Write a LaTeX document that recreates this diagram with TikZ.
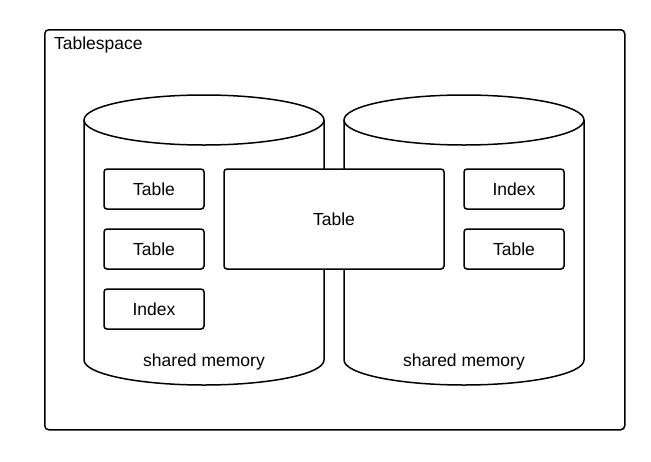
\documentclass[tikz,border=0pt]{standalone}
\usepackage{fontspec}
\setmainfont{Liberation Sans}
\begin{document}
\begin{tikzpicture}[x=1pt,y=-1pt,line width=1.5pt,
  box/.style={draw,rounded corners=3pt,fill=white},
  lbl/.style={font=\fontsize{17.5}{20}\selectfont}]
\useasboundingbox (0,0) rectangle (651,461);
\node[draw,rounded corners=4pt,minimum width=580pt,minimum height=400pt,anchor=north west] (ts) at (44,29) {};
\node[lbl,anchor=west] (tsl) at (50,45) {Tablespace};
\foreach \cx/\n in {204/a,464/b}{
  \draw[fill=white] (\cx-120,120) -- (\cx-120,360) arc[start angle=180,end angle=0,x radius=120,y radius=25] -- (\cx+120,120);
  \draw[fill=white] (\cx,120) ellipse[x radius=120,y radius=25];
  \node[lbl] (sm\n) at (\cx,362) {shared memory};
}
\node[box,minimum width=100pt,minimum height=40pt] (t1) at (154,189) {};
\node[box,minimum width=100pt,minimum height=40pt] (t2) at (154,249) {};
\node[box,minimum width=100pt,minimum height=40pt] (i1) at (154,309) {};
\node[box,minimum width=100pt,minimum height=40pt] (i2) at (514,189) {};
\node[box,minimum width=100pt,minimum height=40pt] (t3) at (514,249) {};
\node[box,minimum width=220pt,minimum height=100pt] (t4) at (334,219) {};
\node[lbl] at (t1) {Table};
\node[lbl] at (t2) {Table};
\node[lbl] at (i1) {Index};
\node[lbl] at (i2) {Index};
\node[lbl] at (t3) {Table};
\node[lbl] at (t4) {Table};
\end{tikzpicture}
\end{document}
